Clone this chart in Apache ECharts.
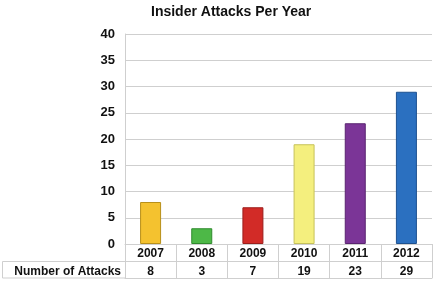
<!DOCTYPE html>
<html>
<head>
<meta charset="utf-8">
<script src="https://cdn.jsdelivr.net/npm/echarts@6/dist/echarts.min.js"></script>
<style>
  html, body { margin: 0; padding: 0; background: #fff; }
  #chart { width: 435px; height: 284px; }
</style>
</head>
<body>
<div id="chart"></div>
<script>
// data
const years = ['2007', '2008', '2009', '2010', '2011', '2012'];
const attacks = [8, 3, 7, 19, 23, 29];
const barColors = ['#F4C22F', '#4DB847', '#D22B27', '#F4EF7E', '#7B3597', '#2B70C0'];
const barBorders = ['#B8901A', '#2F8A2C', '#9C1E1B', '#C6C25A', '#5A2470', '#1D5190'];
const rowName = 'Number of Attacks';

const chart = echarts.init(document.getElementById('chart'));
const font = 'Liberation Sans, Arial, sans-serif';
const gridColor = '#cfcfcf';

const option = {
  animation: false,
  textStyle: { fontFamily: font },
  title: {
    text: 'Insider Attacks Per Year',
    left: 146,
    top: 0,
    textStyle: { fontSize: 14, fontWeight: 'bold', color: '#111', fontFamily: font }
  },
  grid: { left: 125, right: 3, top: 34, bottom: 40 },
  yAxis: {
    type: 'value',
    min: 0,
    max: 40,
    interval: 5,
    axisLine: { show: true, lineStyle: { color: gridColor } },
    axisTick: { show: false },
    splitLine: { lineStyle: { color: gridColor } },
    axisLabel: { margin: 10, fontSize: 13, fontWeight: 'bold', color: '#111' }
  },
  xAxis: [
    {
      type: 'category',
      data: years,
      axisLine: { lineStyle: { color: gridColor } },
      axisTick: { show: true, length: 34, lineStyle: { color: gridColor } },
      axisLabel: {
        margin: 1,
        interval: 0,
        formatter: (v, i) => '{y|' + v + '}\n{v|' + attacks[i] + '}',
        rich: {
          y: { fontSize: 12, fontWeight: 'bold', color: '#111', lineHeight: 17.5, fontFamily: font },
          v: { fontSize: 12, fontWeight: 'bold', color: '#111', lineHeight: 17.5, fontFamily: font }
        }
      }
    },
    {
      type: 'category',
      data: years,
      position: 'bottom',
      offset: 17.5,
      axisLine: { lineStyle: { color: gridColor } },
      axisTick: { show: false },
      axisLabel: { show: false }
    },
    {
      type: 'category',
      data: years,
      position: 'bottom',
      offset: 34,
      axisLine: { lineStyle: { color: gridColor } },
      axisTick: { show: false },
      axisLabel: { show: false }
    }
  ],
  graphic: [
    {
      type: 'rect',
      shape: { x: 2.5, y: 261.5, width: 123, height: 16.5 },
      style: { fill: 'none', stroke: gridColor, lineWidth: 1 }
    },
    {
      type: 'text',
      x: 121,
      y: 271.5,
      style: {
        text: rowName,
        align: 'right',
        verticalAlign: 'middle',
        font: 'bold 12px ' + font,
        fill: '#111'
      }
    }
  ],
  series: [
    {
      type: 'bar',
      xAxisIndex: 0,
      barWidth: 21,
      data: attacks.map((v, i) => ({
        value: v,
        itemStyle: { color: barColors[i], borderColor: barBorders[i], borderWidth: 1 }
      }))
    }
  ]
};

chart.setOption(option);
</script>
</body>
</html>
